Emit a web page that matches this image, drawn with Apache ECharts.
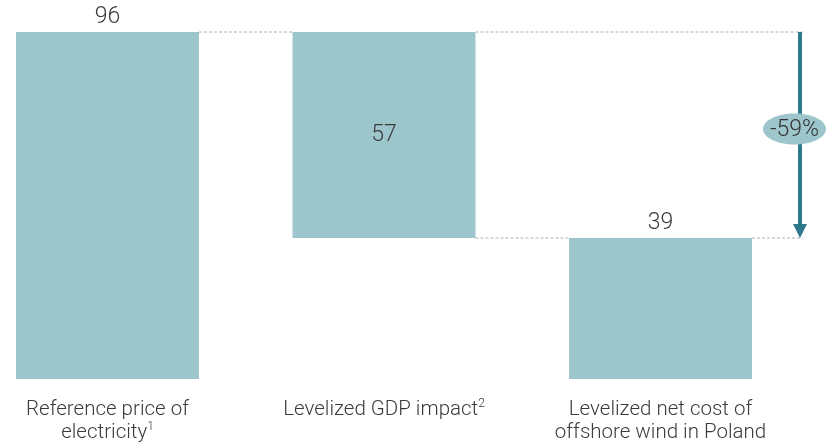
<!DOCTYPE html>
<html><head><meta charset="utf-8">
<script src="https://cdn.jsdelivr.net/npm/echarts@6/dist/echarts.min.js"></script>
<style>html,body{margin:0;padding:0;background:#fff}#c{width:828px;height:443px}</style>
</head><body><div id="c"></div>
<script>
const categories = ['Reference price of\nelectricity{sup|1}', 'Levelized GDP impact{sup|2}', 'Levelized net cost of\noffshore wind in Poland'];
const baseValues = [0, 39, 0];
const barValues = [96, 57, 39];
const totals = [96, 96, 39];
const changeLabel = '-59%';

const FONT = 'Roboto, Liberation Sans, Arial, sans-serif';
const chart = echarts.init(document.getElementById('c'));
const barColor = '#9dc6cc';
chart.setOption({
  animation: false,
  grid: {left: -30.75, width: 829.5, top: 32, bottom: 64, outerBoundsMode: 'none', containLabel: false},
  xAxis: {
    type: 'category', data: categories,
    axisLine: {show: false}, axisTick: {show: false},
    axisLabel: {
      interval: 0,
      margin: 19, color: '#3a3a3a', fontSize: 20.5, fontWeight: 300, lineHeight: 23,
      fontFamily: FONT,
      rich: {sup: {fontSize: 12, fontWeight: 300, fontFamily: FONT, verticalAlign: 'top', color: '#3a3a3a', padding: [0,0,8,0], lineHeight: 23}}
    }
  },
  yAxis: {type: 'value', min: 0, max: 96, show: false, splitLine: {show: false}},
  series: [
    {type: 'bar', stack: 'w', data: baseValues, barWidth: 183, itemStyle: {color: 'transparent'}, silent: true},
    {type: 'bar', stack: 'w', data: barValues.map((v, i) => ({
        value: v,
        label: {show: true, position: i === 1 ? 'inside' : 'top', distance: 3}
      })),
      barWidth: 183, itemStyle: {color: barColor},
      label: {color: '#3a3a3a', fontSize: 23, fontWeight: 300, fontFamily: FONT}
    }
  ]
});

function px(ci, v) { return chart.convertToPixel({gridIndex: 0}, [ci, v]); }
const half = 183 / 2;
const yTop = px(0, totals[0])[1];
const yLow = px(2, totals[2])[1];
const x0r = px(0, 0)[0] + half;
const x1l = px(1, 0)[0] - half, x1r = px(1, 0)[0] + half;
const x2l = px(2, 0)[0] - half, x2r = px(2, 0)[0] + half;
const ax = 800;
const dash = {stroke: '#b0b0b0', lineWidth: 1, lineDash: [3, 2]};
chart.setOption({
  graphic: [
    {type: 'line', shape: {x1: x0r, y1: yTop, x2: x1l, y2: yTop}, style: dash},
    {type: 'line', shape: {x1: x1r, y1: yTop, x2: ax + 3, y2: yTop}, style: dash},
    {type: 'line', shape: {x1: x1r, y1: yLow, x2: x2l, y2: yLow}, style: dash},
    {type: 'line', shape: {x1: x2r, y1: yLow, x2: ax + 3, y2: yLow}, style: dash},
    {type: 'line', shape: {x1: ax, y1: yTop, x2: ax, y2: yLow - 12}, style: {stroke: '#2e7a8c', lineWidth: 4}},
    {type: 'polygon', shape: {points: [[ax - 7, yLow - 14], [ax + 7, yLow - 14], [ax, yLow]]}, style: {fill: '#2e7a8c'}},
    {type: 'ellipse', shape: {cx: 794.5, cy: (yTop + yLow) / 2 - 6, rx: 31.5, ry: 15.5}, style: {fill: barColor}},
    {type: 'text', x: 794.5, y: (yTop + yLow) / 2 - 5, style: {text: changeLabel, fill: '#333', fontSize: 23, fontWeight: 300, fontFamily: FONT, align: 'center', verticalAlign: 'middle'}}
  ]
});
</script></body></html>
